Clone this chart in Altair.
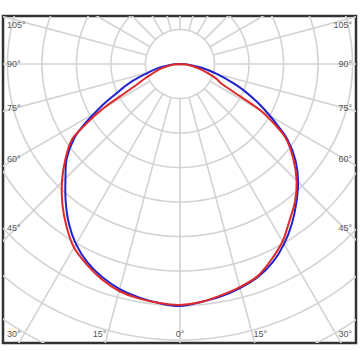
import altair as alt
import pandas as pd
import numpy as np

# ---- data (angle from nadir in degrees, left side negative) ----
ANGLES = [-90, -85, -80, -75, -70, -67.5, -65, -62.5, -60, -57.5, -55, -50, -45, -40, -35,
          -30, -25, -20, -15, -10, -5, 0, 5, 10, 15, 20, 25, 30, 35, 40, 45, 50, 55,
          57.5, 60, 62.5, 65, 67.5, 70, 75, 80, 85, 90]
BLUE = [0, 10, 21, 33, 52, 61, 71, 85, 99, 115, 129, 148, 162, 178, 194,
        208, 219, 227, 233, 237, 240, 242, 239, 236, 232, 227, 219, 208, 195, 181, 167, 151, 131,
        117, 104, 92, 80, 69, 58, 38, 22, 10, 0]
RED = [0, 6, 13, 22, 31, 38, 46, 60, 88, 111, 132, 150, 167, 183, 198,
       212, 221, 229, 235, 238, 240, 241, 239, 235, 231, 226, 216, 205, 191, 179, 165, 148, 129,
       112, 93, 60, 45, 40, 34, 22, 13, 6, 0]

RING_RADII = [34.5, 69, 103.5, 138, 172.5, 207, 241.5, 276, 310.5, 345]
RADIAL_ANGLES = list(range(0, 360, 15))

SIDE_LABELS = ["105°", "90°", "75°", "60°", "45°", "30°"]
SIDE_ANGLES = [105, 90, 75, 60, 45, 30]
BOTTOM_LABELS = ["15°", "0°", "15°"]
BOTTOM_ANGLES = [-15, 0, 15]

# ---- tables ----
curves = pd.DataFrame(
    [{"series": "B", "a": a, "r": r, "i": i} for i, (a, r) in enumerate(zip(ANGLES, BLUE))]
    + [{"series": "A", "a": a, "r": r, "i": i} for i, (a, r) in enumerate(zip(ANGLES, RED))]
)
theta_steps = np.arange(0, 362, 2)
rings = pd.DataFrame([{"ring": k, "r": r, "t": float(t)} for k, r in enumerate(RING_RADII) for t in theta_steps])
radials = pd.DataFrame({"a": RADIAL_ANGLES, "r0": RING_RADII[0], "r1": 450})
side = pd.DataFrame({"text": SIDE_LABELS, "a": SIDE_ANGLES})
bottom = pd.DataFrame({"text": BOTTOM_LABELS, "a": BOTTOM_ANGLES})

W, H = 353, 327
xs = alt.Scale(domain=[-177, 176], nice=False, zero=False)
ys = alt.Scale(domain=[-279, 48], nice=False, zero=False)
X = lambda f: alt.X(f, type="quantitative", scale=xs, axis=None)
Y = lambda f: alt.Y(f, type="quantitative", scale=ys, axis=None)

GRID = "#d3d3d3"

ring_layer = alt.Chart(rings).transform_calculate(
    x="datum.r*sin(datum.t*PI/180)", y="-datum.r*cos(datum.t*PI/180)"
).mark_line(color=GRID, strokeWidth=1.6, clip=True).encode(
    x=X("x:Q"), y=Y("y:Q"), detail="ring:N", order="t:Q"
)

radial_layer = alt.Chart(radials).transform_calculate(
    x="datum.r0*sin(datum.a*PI/180)", y="-datum.r0*cos(datum.a*PI/180)",
    x2="datum.r1*sin(datum.a*PI/180)", y2="-datum.r1*cos(datum.a*PI/180)"
).mark_rule(color=GRID, strokeWidth=1.6, clip=True).encode(
    x=X("x:Q"), y=Y("y:Q"), x2="x2:Q", y2="y2:Q"
)

curve_layer = alt.Chart(curves).transform_calculate(
    x="datum.r*sin(datum.a*PI/180)", y="-datum.r*cos(datum.a*PI/180)"
).mark_line(strokeWidth=2, clip=True, interpolate="catmull-rom").encode(
    x=X("x:Q"), y=Y("y:Q"),
    color=alt.Color("series:N", scale=alt.Scale(domain=["A", "B"], range=["#e02a2a", "#2222cc"]), legend=None),
    order="i:Q",
)

TXT = dict(font="Liberation Sans", fontSize=9, color="#555555", baseline="middle")
left_labels = alt.Chart(side).transform_calculate(
    x="-173", y="clamp(-164/tan(datum.a*PI/180), -270, 39)"
).mark_text(align="left", **TXT).encode(x=X("x:Q"), y=Y("y:Q"), text="text:N")
right_labels = alt.Chart(side).transform_calculate(
    x="172", y="clamp(-164/tan(datum.a*PI/180), -270, 39)"
).mark_text(align="right", **TXT).encode(x=X("x:Q"), y=Y("y:Q"), text="text:N")
bottom_labels = alt.Chart(bottom).transform_calculate(
    x="300*tan(datum.a*PI/180)", y="-270"
).mark_text(align="center", **TXT).encode(x=X("x:Q"), y=Y("y:Q"), text="text:N")

chart = alt.layer(
    ring_layer, radial_layer, curve_layer, left_labels, right_labels, bottom_labels
).properties(
    width=W, height=H, autosize="none",
    padding={"left": 3, "top": 16, "right": 4, "bottom": 17},
    background="white",
).configure_view(stroke="#333333", strokeWidth=2.5)

chart.save("out.html", embed_options={"renderer": "svg", "actions": False})
